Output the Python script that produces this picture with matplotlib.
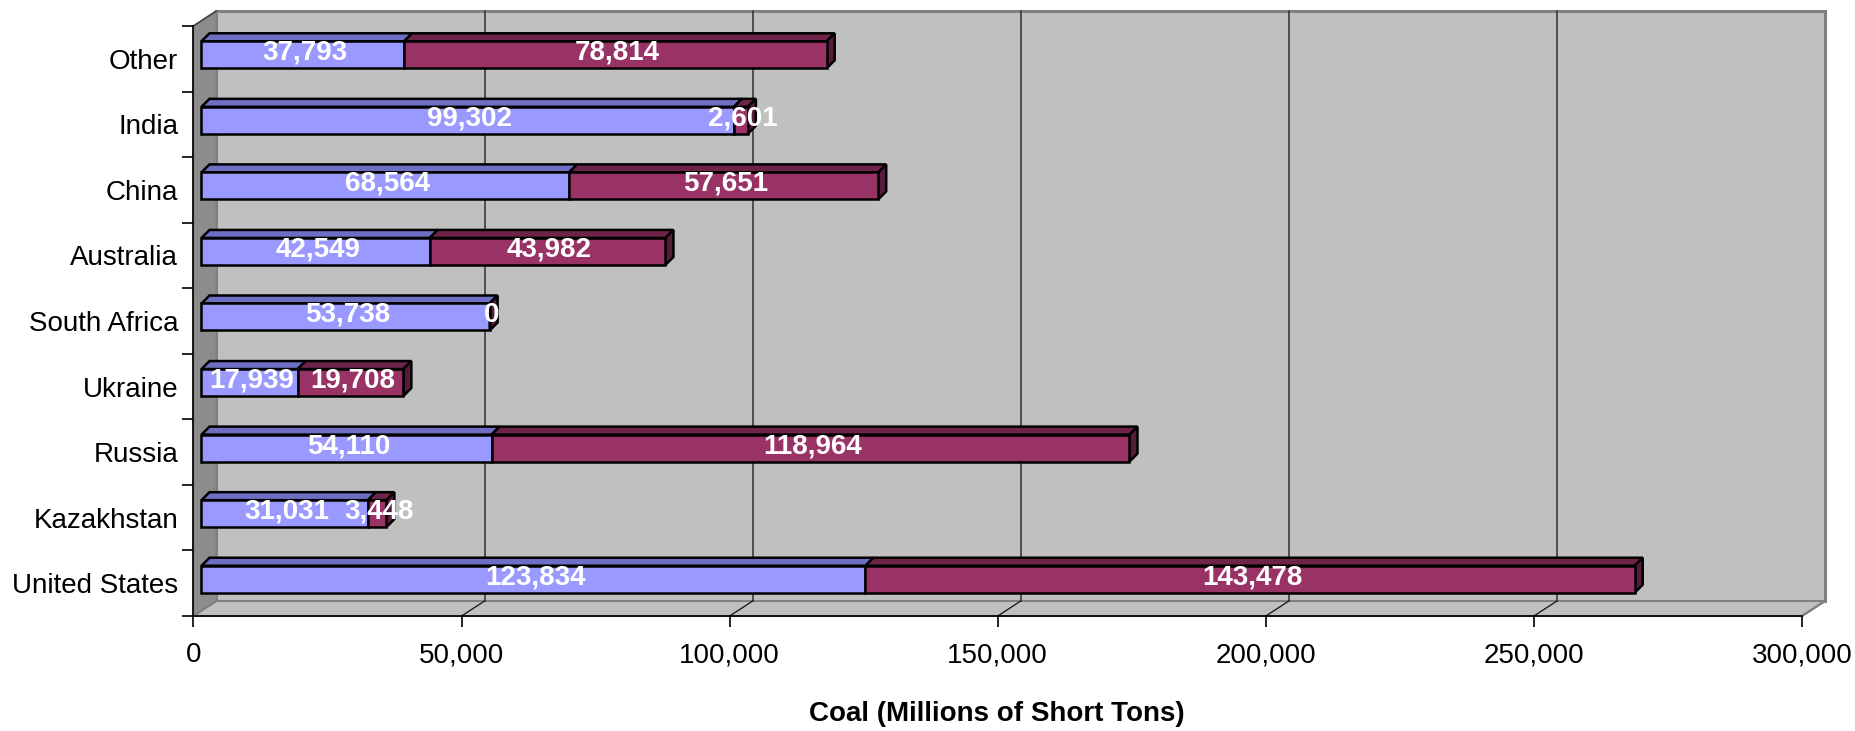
import matplotlib.pyplot as plt
from matplotlib.patches import Polygon, Rectangle
from matplotlib.ticker import FuncFormatter, FixedLocator

plt.rcParams['font.family'] = ['Liberation Sans', 'DejaVu Sans']

# Coal figures per country (stacked: first + second series)
countries = ["United States", "Kazakhstan", "Russia", "Ukraine", "South Africa",
             "Australia", "China", "India", "Other"]
series_a = [123834, 31031, 54110, 17939, 53738, 42549, 68564, 99302, 37793]
series_b = [143478, 3448, 118964, 19708, 0, 43982, 57651, 2601, 78814]

XMAX = 300000
col_a, top_a, side_a = "#9999FF", "#6E6EC4", "#5A5AA8"
col_b, top_b, side_b = "#993366", "#6E2449", "#561C39"

fig = plt.figure(figsize=(18.56, 7.31), dpi=100)
W, H = 1856, 731
x0px, x1px, ytop, ybot = 193.5, 1802, 26, 616
ax = fig.add_axes([x0px / W, (H - ybot) / H, (x1px - x0px) / W, (ybot - ytop) / H])
ax.set_xlim(0, XMAX)
ax.set_ylim(-0.5, len(countries) - 0.5)

# pixel -> data conversions for the fake 3D offsets
px = XMAX / (x1px - x0px)
py = len(countries) / (ybot - ytop)
wall_dx, wall_dy = 23 * px, 15 * py      # depth of the chart box
face_dx, face_dy = 8 * px, 4 * py        # bar front face sits inside the box
bar_dx, bar_dy = 8 * px, 8 * py          # bar depth
half_h = 13.5 * py

ylo, yhi = -0.5, len(countries) - 0.5

# walls and floor
ax.add_patch(Rectangle((wall_dx, ylo + wall_dy), XMAX, yhi - ylo, fc="#C0C0C0",
                       ec="#808080", lw=2.2, zorder=0, clip_on=False))
ax.add_patch(Polygon([(0, ylo), (0, yhi), (wall_dx, yhi + wall_dy), (wall_dx, ylo + wall_dy)],
                     fc="#8C8C8C", ec="#808080", lw=1.5, zorder=0.5, clip_on=False))
ax.add_patch(Polygon([(0, ylo), (XMAX, ylo), (XMAX + wall_dx, ylo + wall_dy), (wall_dx, ylo + wall_dy)],
                     fc="#C0C0C0", ec="#808080", lw=1.5, zorder=0.5, clip_on=False))
ax.plot([0, wall_dx], [yhi, yhi + wall_dy], color="#404040", lw=1, zorder=0.6, clip_on=False)

# gridlines on the back wall plus floor diagonals
for v in range(50000, XMAX, 50000):
    ax.plot([v + wall_dx, v + wall_dx], [ylo + wall_dy, yhi + wall_dy], color="#303030",
            lw=1.1, zorder=0.7, clip_on=False)
    ax.plot([v, v + wall_dx], [ylo, ylo + wall_dy], color="#202020", lw=1, zorder=0.7, clip_on=False)
ax.plot([XMAX, XMAX + wall_dx], [ylo, ylo + wall_dy], color="#808080", lw=1.5, zorder=0.7, clip_on=False)


def box(xa, xb, yc, face, top, side, z, draw_side):
    fx0, fx1 = xa + face_dx, xb + face_dx
    yb, yt = yc + face_dy - half_h, yc + face_dy + half_h
    kw = dict(ec="black", lw=1.8, joinstyle="miter", clip_on=False, zorder=z)
    ax.add_patch(Polygon([(fx0, yt), (fx1, yt), (fx1 + bar_dx, yt + bar_dy), (fx0 + bar_dx, yt + bar_dy)],
                         fc=top, **kw))
    if draw_side:
        ax.add_patch(Polygon([(fx1, yb), (fx1, yt), (fx1 + bar_dx, yt + bar_dy), (fx1 + bar_dx, yb + bar_dy)],
                             fc=side, **kw))
    ax.add_patch(Polygon([(fx0, yb), (fx1, yb), (fx1, yt), (fx0, yt)], fc=face, **kw))


lbl = dict(color="white", fontsize=20, fontweight="bold", ha="center", va="center", zorder=20)
for i, (a, b) in enumerate(zip(series_a, series_b)):
    z = 5 + (len(countries) - i)
    box(0, a, i, col_a, top_a, side_a, z, False)
    box(a, a + b, i, col_b, top_b, side_b, z + 0.1, True)
    yl = i + face_dy + 2 * py
    ax.text(a / 2 + face_dx + 2 * px, yl, f"{a:,}", **lbl)
    ax.text(a + b / 2 + face_dx + 2 * px, yl, f"{b:,}", **lbl)

# axes
for s in ["top", "right"]:
    ax.spines[s].set_visible(False)
for s in ["left", "bottom"]:
    ax.spines[s].set_color("black")
    ax.spines[s].set_linewidth(1.2)
    ax.spines[s].set_zorder(1)
ax.set_facecolor("none")
ax.set_xticks(range(0, XMAX + 1, 50000))
ax.xaxis.set_major_formatter(FuncFormatter(lambda v, p: f"{int(v):,}"))
ax.tick_params(axis="x", direction="out", length=8, width=1.2, labelsize=20, pad=11)
ax.set_yticks(range(len(countries)))
ax.set_yticklabels(countries)
ax.yaxis.set_minor_locator(FixedLocator([k - 0.5 for k in range(len(countries) + 1)]))
ax.tick_params(axis="y", which="major", length=0, labelsize=20, pad=11)
ax.tick_params(axis="y", which="minor", direction="out", length=8, width=1.2)

fig.text(997 / W, (H - 714) / H, "Coal (Millions of Short Tons)", ha="center", va="center",
         fontsize=20, fontweight="bold")

fig.savefig("out.png", dpi=100)
